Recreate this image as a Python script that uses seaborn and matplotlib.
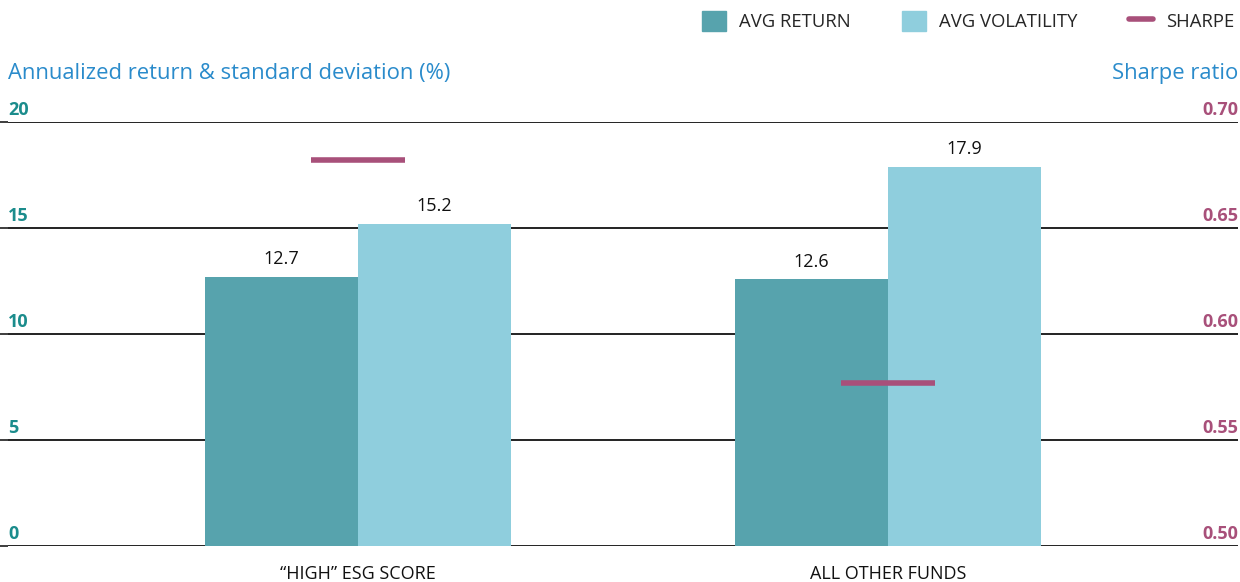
import matplotlib.pyplot as plt
import matplotlib.transforms as mtransforms
from matplotlib.patches import Patch
from matplotlib.lines import Line2D
import pandas as pd
import seaborn as sns
import numpy as np

categories = ['\u201cHIGH\u201d ESG SCORE', 'ALL OTHER FUNDS']
avg_return = [12.7, 12.6]
avg_volatility = [15.2, 17.9]
sharpe = [0.682, 0.577]
left_ticks = [0, 5, 10, 15, 20]
right_ticks = ['0.50', '0.55', '0.60', '0.65', '0.70']

c_ret = '#57A3AD'
c_vol = '#8FCEDD'
c_sharpe = '#A8507A'
c_left = '#1B8C8C'
c_title = '#2A8BCB'

sns.set_theme(style='white')
plt.rcParams['font.family'] = ['Open Sans', 'DejaVu Sans']

df = pd.DataFrame({
    'Category': categories * 2,
    'Series': ['AVG RETURN'] * 2 + ['AVG VOLATILITY'] * 2,
    'Value': avg_return + avg_volatility,
})

fig = plt.figure(figsize=(12.4, 5.82), dpi=100)
ax = fig.add_axes([8 / 1240, 36 / 582, 1230 / 1240, 424 / 582])

sns.barplot(data=df, x='Category', y='Value', hue='Series',
            palette=[c_ret, c_vol], width=0.577, saturation=1,
            linewidth=0, legend=False, ax=ax, zorder=2)

for container in ax.containers:
    ax.bar_label(container, fmt='%.1f', padding=6, fontsize=13, color='#111111')

ax.set_xlim(-0.66, 1.66)
ax.set_ylim(0, 20)
ax.set_yticks(left_ticks)
ax.yaxis.grid(True, color='#111111', linewidth=1.3, zorder=1)
ax.set_axisbelow(True)
ax.tick_params(axis='y', left=False, labelleft=False)
ax.tick_params(axis='x', bottom=False, length=0, labelsize=13, pad=14, colors='#111111')
ax.set_xlabel('')
ax.set_ylabel('')
for s in ax.spines.values():
    s.set_visible(False)

ax2 = ax.twinx()
ax2.set_ylim(0.50, 0.70)
ax2.hlines(sharpe, xmin=np.arange(len(sharpe)) - 0.089, xmax=np.arange(len(sharpe)) + 0.089,
           color=c_sharpe, linewidth=4, zorder=5)
ax2.tick_params(axis='y', right=False, labelright=False)
for s in ax2.spines.values():
    s.set_visible(False)

trans_l = mtransforms.blended_transform_factory(ax.transAxes, ax.transData)
for t in left_ticks:
    ax.text(0, t + 0.12, str(t), transform=trans_l, ha='left', va='bottom',
            fontsize=13, fontweight='bold', color=c_left)
trans_r = mtransforms.blended_transform_factory(ax2.transAxes, ax2.transData)
for t in right_ticks:
    ax2.text(1, float(t) + 0.0012, t, transform=trans_r, ha='right', va='bottom',
             fontsize=13, fontweight='bold', color=c_sharpe)

fig.text(8 / 1240, 1 - 73 / 582, 'Annualized return & standard deviation (%)',
         ha='left', va='center', fontsize=15.8, color=c_title)
fig.text(1238 / 1240, 1 - 73 / 582, 'Sharpe ratio',
         ha='right', va='center', fontsize=15.8, color=c_title)

handles = [Patch(color=c_ret, label='AVG RETURN'),
           Patch(color=c_vol, label='AVG VOLATILITY'),
           Line2D([0], [0], color=c_sharpe, linewidth=4, label='SHARPE')]
fig.legend(handles=handles, loc='upper right', bbox_to_anchor=(1.009, 1.01), ncol=3,
           frameon=False, fontsize=13.3, handlelength=1.3, handleheight=1.3,
           columnspacing=2.8, handletextpad=0.7)

plt.savefig('out.png', dpi=100)
